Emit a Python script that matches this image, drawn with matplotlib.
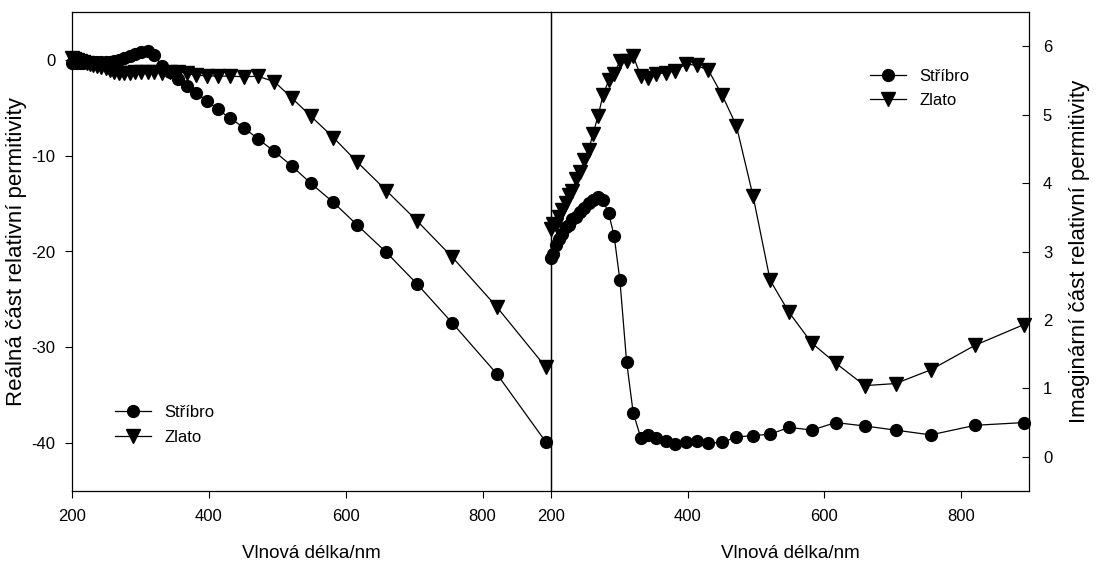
import matplotlib
matplotlib.use("Agg")
import matplotlib.pyplot as plt

plt.rcParams['font.family'] = ['Liberation Sans', 'DejaVu Sans']
plt.rcParams['axes.unicode_minus'] = False

# wavelength (nm) and permitivity
wavelength = [199.3, 203.3, 207.3, 211.9, 216.4, 221.4, 226.3, 231.3, 237.1, 242.6,
              249.0, 255.1, 261.6, 268.9, 276.1, 284.4, 292.4, 300.9, 310.7, 320.4,
              331.5, 342.5, 354.2, 367.9, 381.5, 397.4, 413.3, 430.5, 450.9, 471.4,
              495.9, 520.9, 548.6, 582.1, 616.8, 659.5, 704.5, 756.0, 821.1, 892.0]

silver_real = [-0.33, -0.34, -0.33, -0.32, -0.30, -0.24, -0.22, -0.20, -0.23, -0.21,
               -0.21, -0.17, -0.10, 0.02, 0.22, 0.39, 0.58, 0.87, 0.90, 0.50,
               -0.66, -1.29, -2.00, -2.74, -3.47, -4.28, -5.17, -6.06, -7.06, -8.23,
               -9.56, -11.05, -12.86, -14.88, -17.24, -20.10, -23.41, -27.48, -32.80, -39.84]
gold_real = [0.20, 0.14, -0.01, -0.13, -0.23, -0.35, -0.42, -0.55, -0.62, -0.75,
             -0.89, -1.08, -1.24, -1.35, -1.37, -1.33, -1.31, -1.23, -1.24, -1.23,
             -1.36, -1.31, -1.23, -1.40, -1.61, -1.65, -1.70, -1.69, -1.76, -1.70,
             -2.28, -3.95, -5.84, -8.11, -10.66, -13.65, -16.82, -20.61, -25.81, -32.04]

silver_imag = [2.91, 2.97, 3.10, 3.18, 3.26, 3.36, 3.39, 3.47, 3.50, 3.58,
               3.64, 3.71, 3.75, 3.79, 3.75, 3.56, 3.23, 2.58, 1.39, 0.64,
               0.28, 0.32, 0.28, 0.23, 0.19, 0.21, 0.23, 0.20, 0.21, 0.29,
               0.31, 0.33, 0.43, 0.39, 0.50, 0.45, 0.39, 0.32, 0.46, 0.50]
gold_imag = [3.33, 3.40, 3.39, 3.51, 3.61, 3.71, 3.83, 3.89, 4.06, 4.16,
             4.34, 4.49, 4.72, 4.98, 5.28, 5.50, 5.60, 5.78, 5.79, 5.85,
             5.57, 5.54, 5.60, 5.61, 5.64, 5.74, 5.72, 5.65, 5.28, 4.84,
             3.81, 2.58, 2.11, 1.66, 1.37, 1.04, 1.07, 1.27, 1.63, 1.93]

W, H = 1101, 570
fig = plt.figure(figsize=(W / 100, H / 100), dpi=100)
ax1 = fig.add_axes([72 / W, 79 / H, 479 / W, 479 / H])
ax2 = fig.add_axes([551 / W, 79 / H, 478 / W, 479 / H])
ax2.patch.set_visible(False)

style = dict(color='black', lw=0.9, clip_on=False, zorder=3)

ax1.plot(wavelength, silver_real, marker='o', ms=8.5, label='Stříbro', **style)
ax1.plot(wavelength, gold_real, marker='v', ms=9.5, label='Zlato', **style)
ax2.plot(wavelength, silver_imag, marker='o', ms=8.5, label='Stříbro', **style)
ax2.plot(wavelength, gold_imag, marker='v', ms=9.5, label='Zlato', **style)

# left panel: real part
ax1.set_xlim(200, 900)
ax1.set_ylim(-45, 5)
ax1.set_xticks([200, 400, 600, 800])
ax1.set_yticks([0, -10, -20, -30, -40])
ax1.tick_params(axis='x', direction='out', length=5, width=0.8, labelsize=12, pad=8)
ax1.tick_params(axis='y', direction='out', length=5, width=0.8, labelsize=12, pad=7)
ax1.set_xlabel('Vlnová délka/nm', fontsize=13.5, labelpad=15)
ax1.set_ylabel('Reálná část relativní permitivity', fontsize=16, labelpad=3)

# right panel: imaginary part
ax2.set_xlim(200, 900)
ax2.set_ylim(-0.5, 6.5)
ax2.set_xticks([200, 400, 600, 800])
ax2.set_yticks([0, 1, 2, 3, 4, 5, 6])
ax2.yaxis.tick_right()
ax2.yaxis.set_label_position('right')
ax2.tick_params(axis='x', direction='out', length=5, width=0.8, labelsize=12, pad=8)
ax2.tick_params(axis='y', direction='in', length=5, width=0.8, labelsize=12, pad=10)
ax2.set_xlabel('Vlnová délka/nm', fontsize=13.5, labelpad=15)
ax2.set_ylabel('Imaginární část relativní permitivity', fontsize=16, labelpad=12)

for ax in (ax1, ax2):
    for sp in ax.spines.values():
        sp.set_linewidth(0.9)

ax1.legend(loc='upper left', bbox_to_anchor=(108 / W, 1 - 398 / H), bbox_transform=fig.transFigure,
           frameon=False, fontsize=12, numpoints=1, handlelength=2.2, handletextpad=0.8,
           labelspacing=0.6, borderaxespad=0)
ax2.legend(loc='upper left', bbox_to_anchor=(863 / W, 1 - 62 / H), bbox_transform=fig.transFigure,
           frameon=False, fontsize=12, numpoints=1, handlelength=2.2, handletextpad=0.8,
           labelspacing=0.55, borderaxespad=0)

fig.savefig('out.png', dpi=100)
